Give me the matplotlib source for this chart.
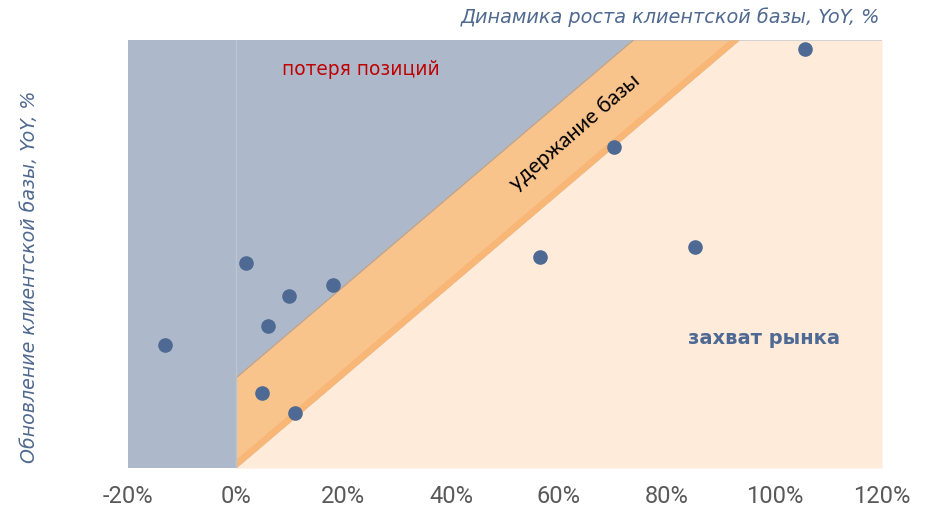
import numpy as np
import matplotlib
matplotlib.use('Agg')
from matplotlib import pyplot as plt

# data
growth = [-13.1, 1.9, 6.0, 9.9, 18.1, 4.9, 11.0, 56.5, 70.2, 85.3, 105.7]
renewal = [28.7, 47.9, 33.2, 40.2, 42.8, 17.5, 12.9, 49.3, 75.0, 51.6, 97.9]
xticks = [-20, 0, 20, 40, 60, 80, 100, 120]
xticklabels = ['-20%', '0%', '20%', '40%', '60%', '80%', '100%', '120%']

# band "удержание базы"
band_slope = 1.07
band_width = 21
ymax = 100

gray = '#ADB9CA'
orange = '#F9C38C'
orange_dark = '#F8B677'
peach = '#FEEBDA'
dot = '#4E6A94'
title_col = '#50698F'

fig = plt.figure(figsize=(9.34, 5.15), dpi=100)
ax = fig.add_axes([128 / 934, 47 / 515, 754 / 934, 428 / 515])
ax.set_facecolor(gray)

x = np.linspace(0, 120, 600)
low = np.minimum(band_slope * x, ymax)
high = np.minimum(band_slope * x + band_width, ymax)
strip = np.minimum(band_slope * x + 2, ymax)

ax.fill_between(x, 0, low, color=peach, lw=0)
ax.fill_between(x, low, high, color=orange, lw=0)
ax.fill_between(x, low, strip, color=orange_dark, lw=0)
ax.plot(x[high < ymax], high[high < ymax], color='#C9A27C', lw=0.8)
ax.axvline(0, color='#BAC4D2', lw=1)

ax.plot(growth, renewal, 'o', color=dot, ms=9.5, zorder=5)

ax.text(23.3, 93, 'потеря позиций', color='#C00000', fontsize=13.4,
        ha='center', va='center')
ax.text(63, 78.5, 'удержание базы', color='black', fontsize=15.5,
        family=['Lato', 'DejaVu Sans'], rotation=41,
        ha='center', va='center', rotation_mode='anchor')
ax.text(98.1, 30.3, 'захват рынка', color=dot, fontsize=14, weight='bold',
        ha='center', va='center')

ax.set_xlim(-20, 120)
ax.set_ylim(0, ymax)
ax.set_xticks(xticks)
ax.set_xticklabels(xticklabels, fontsize=17, color='#595959',
                   family=['Roboto', 'DejaVu Sans'])
ax.set_yticks([])
ax.tick_params(axis='x', length=0, pad=12)
for s in ax.spines.values():
    s.set_visible(False)

fig.text(880 / 934, 1 - 17 / 515, 'Динамика роста клиентской базы, YoY, %',
         color=title_col, fontsize=13.9, style='italic', ha='right', va='center')
fig.text(30 / 934, 1 - 277 / 515, 'Обновление клиентской базы, YoY, %',
         color=title_col, fontsize=13.7, style='italic', rotation=90,
         ha='center', va='center')

fig.savefig('out.png', dpi=100)
